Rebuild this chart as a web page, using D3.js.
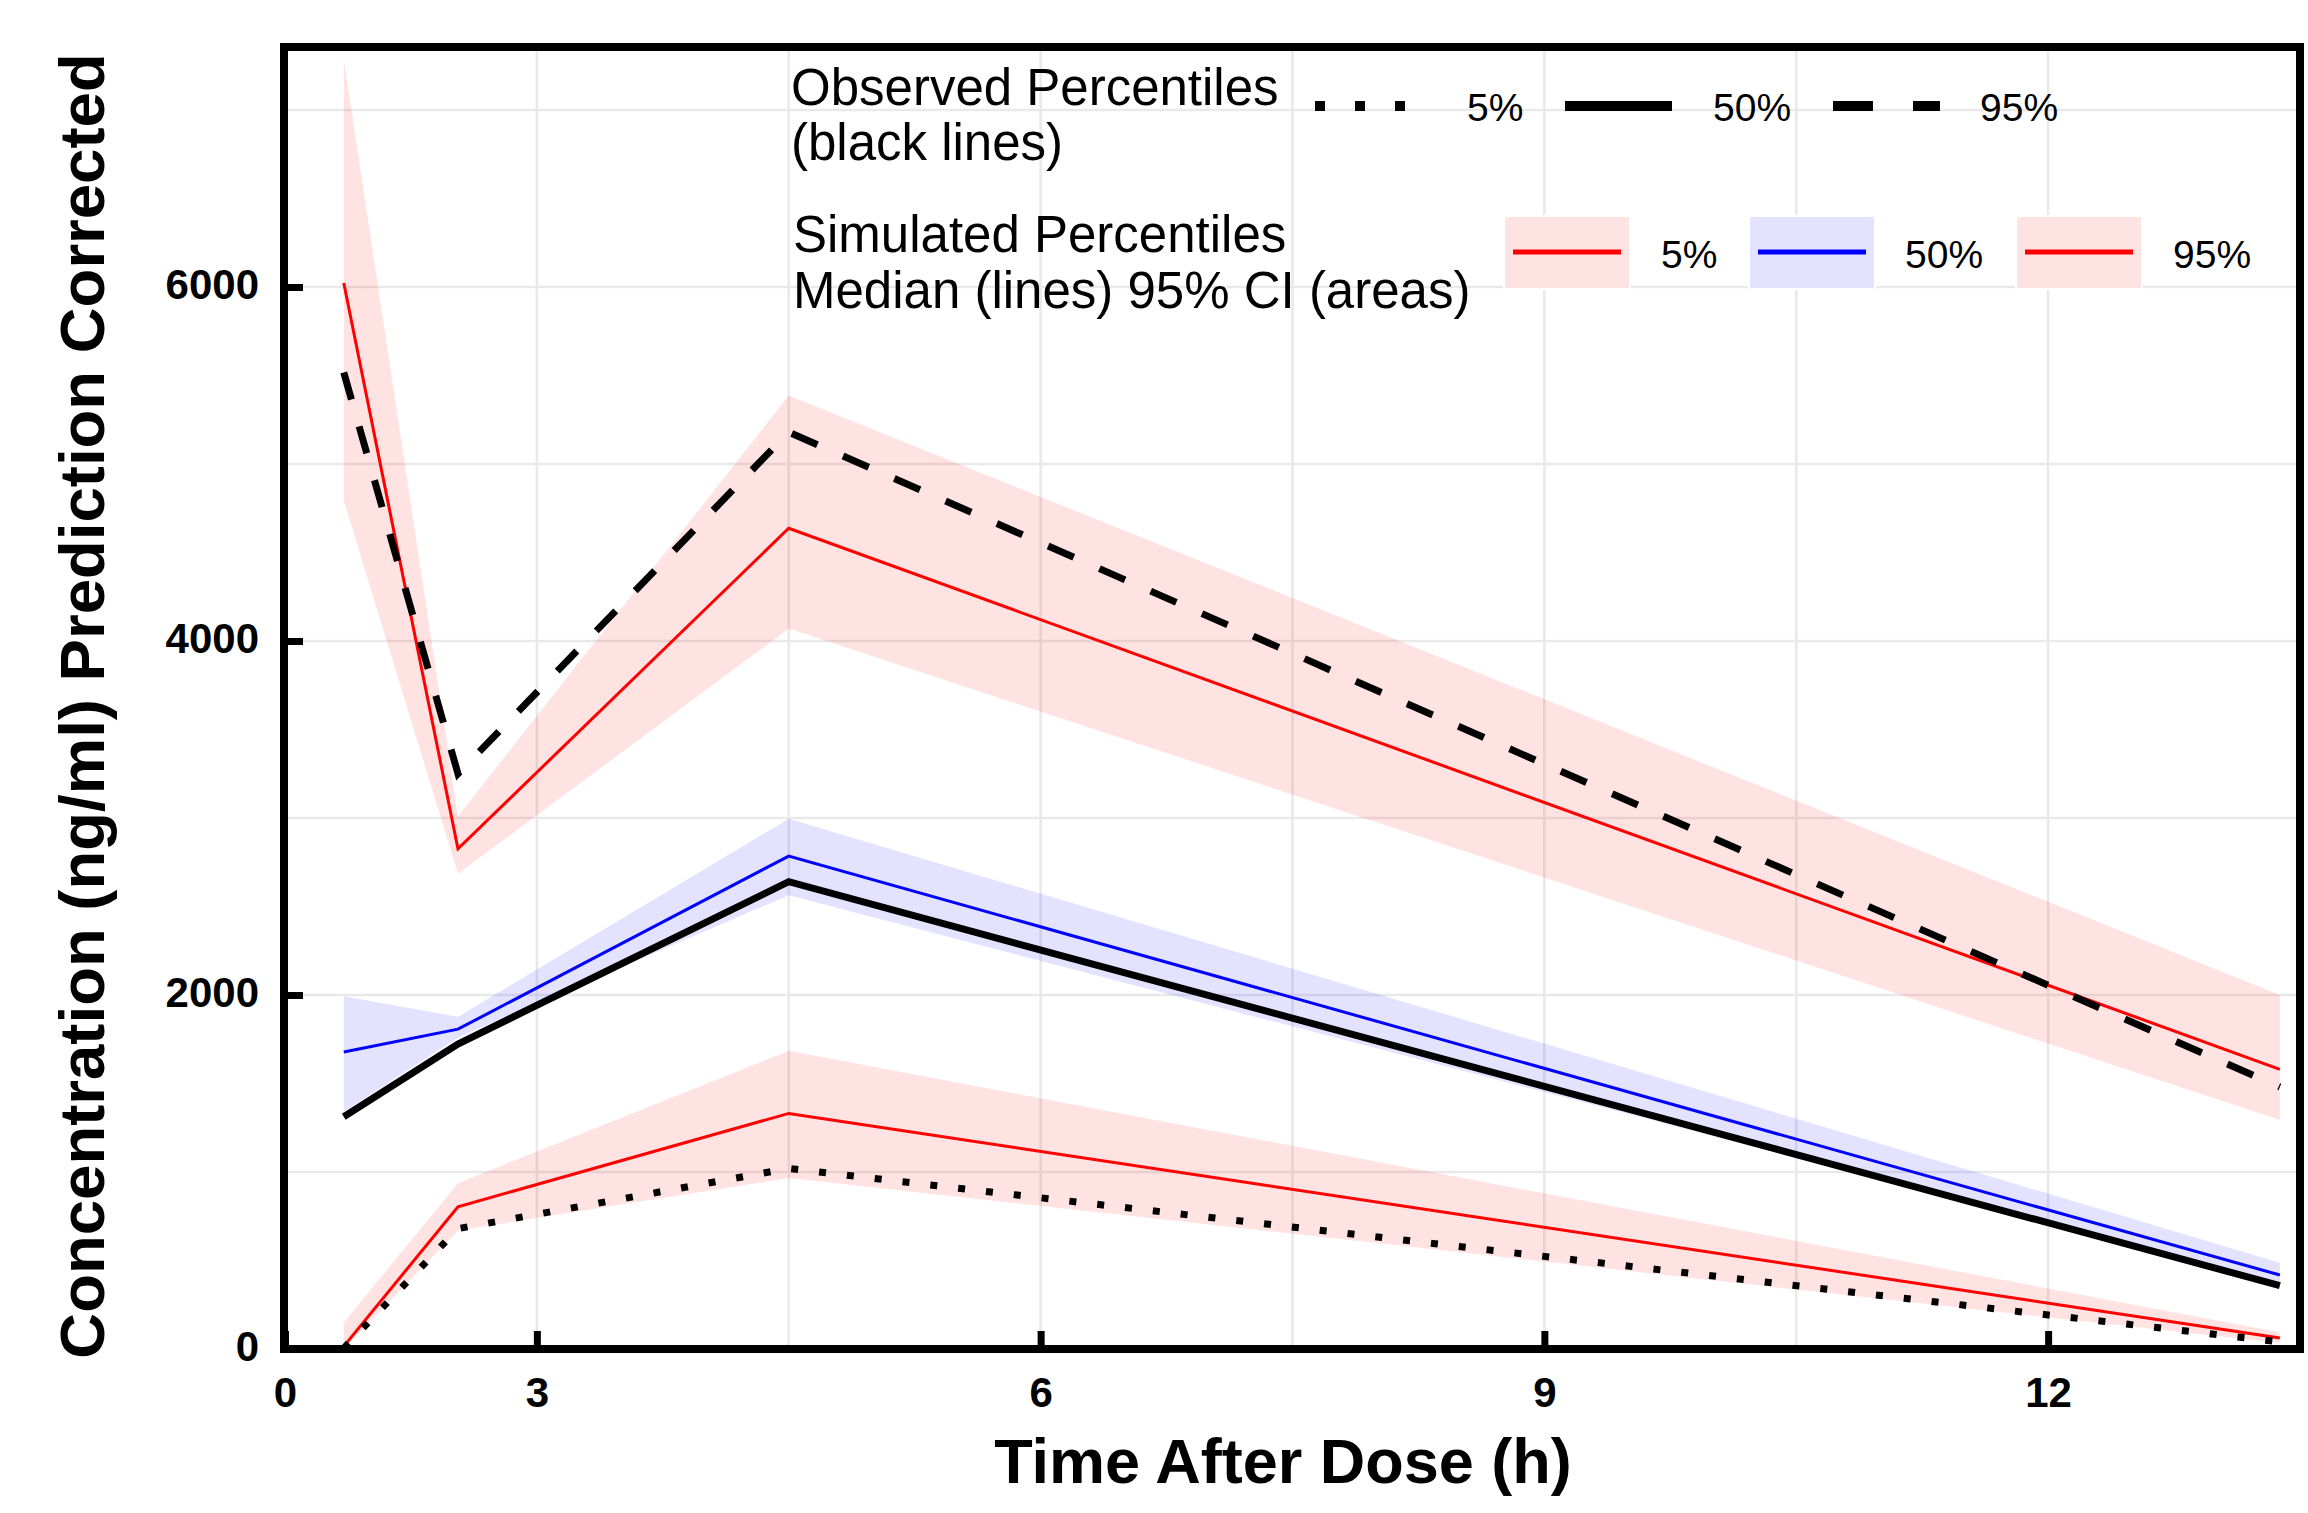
<!DOCTYPE html>
<html>
<head>
<meta charset="utf-8">
<script src="https://cdn.jsdelivr.net/npm/d3@7"></script>
<style>
  html, body { margin: 0; padding: 0; background: #ffffff; }
  svg { display: block; }
</style>
</head>
<body>
<svg id="chart" width="2308" height="1513"></svg>
<script>
// ---------------- data ----------------
const times      = [1.85, 2.53, 4.5, 13.38];
// observed percentiles (black lines)
const obs5       = [5, 680, 1020, 40];
const obs50      = [1312, 1723, 2640, 358];
const obs95      = [5517, 3250, 5180, 1480];
// simulated percentiles: medians (lines) and 95% CI (areas)
const sim5       = [15, 804, 1331, 62];
const sim5Lo     = [0, 670, 966, 34];
const sim5Hi     = [150, 937, 1685, 95];
const sim50      = [1678, 1807, 2785, 418];
const sim50Lo    = [1340, 1760, 2564, 368];
const sim50Hi    = [1993, 1877, 2996, 488];
const sim95      = [6023, 2826, 4637, 1580];
const sim95Lo    = [4792, 2685, 4070, 1294];
const sim95Hi    = [7290, 3010, 5387, 2000];
// axes
const xTickValues = [1.5, 3, 6, 9, 12];
const xTickLabels = ["0", "3", "6", "9", "12"];
const xGridValues = [3, 4.5, 6, 7.5, 9, 10.5, 12];
const yTickValues = [0, 2000, 4000, 6000];
const yGridValues = [1000, 2000, 3000, 4000, 5000, 6000, 7000];
const xTitle = "Time After Dose (h)";
const yTitle = "Concentration (ng/ml) Prediction Corrected";
// legend
const obsLegendTitle = ["Observed Percentiles", "(black lines)"];
const simLegendTitle = ["Simulated Percentiles", "Median (lines) 95% CI (areas)"];
const legendLabels = ["5%", "50%", "95%"];

// ---------------- layout ----------------
const panel = { left: 284, right: 2300, top: 47, bottom: 1349 };
const FONT = "'Liberation Sans', Arial, Helvetica, sans-serif";

const svg = d3.select("#chart");

const x = d3.scaleLinear().domain([1.5, 13.5]).range([285, 2300]);
const y = d3.scaleLinear().domain([0, 7356]).range([1349, 47]);

// grid
const grid = svg.append("g").attr("class", "grid");
grid.selectAll("line.gx").data(xGridValues).join("line")
  .attr("x1", d => x(d)).attr("x2", d => x(d))
  .attr("y1", panel.top).attr("y2", panel.bottom)
  .attr("stroke", "#e9e9e9").attr("stroke-width", 2.6);
grid.selectAll("line.gy").data(yGridValues).join("line")
  .attr("y1", d => y(d)).attr("y2", d => y(d))
  .attr("x1", panel.left).attr("x2", panel.right)
  .attr("stroke", "#e9e9e9").attr("stroke-width", 2.6);

// helpers
const pts = vals => vals.map((v, i) => ({ t: times[i], v }));
const bandPts = (lo, hi) => lo.map((v, i) => ({ t: times[i], lo: v, hi: hi[i] }));
const line = d3.line().x(d => x(d.t)).y(d => y(d.v));
const area = d3.area().x(d => x(d.t)).y0(d => y(d.lo)).y1(d => y(d.hi));

const RED = "#ff0000", BLUE = "#0000ff";
const PINK = "rgba(255,0,0,0.11)", LAV = "rgba(0,0,255,0.11)";

// bands
const bands = [
  { lo: sim5Lo, hi: sim5Hi, fill: PINK },
  { lo: sim50Lo, hi: sim50Hi, fill: LAV },
  { lo: sim95Lo, hi: sim95Hi, fill: PINK }
];
svg.append("g").selectAll("path").data(bands).join("path")
  .attr("d", d => area(bandPts(d.lo, d.hi)))
  .attr("fill", d => d.fill).attr("stroke", "none");

// simulated median lines
const simLines = [
  { v: sim5, c: RED }, { v: sim50, c: BLUE }, { v: sim95, c: RED }
];
svg.append("g").selectAll("path").data(simLines).join("path")
  .attr("d", d => line(pts(d.v)))
  .attr("fill", "none").attr("stroke", d => d.c).attr("stroke-width", 3);

// observed lines
const obsLines = [
  { v: obs5, dash: "7,21" }, { v: obs50, dash: null }, { v: obs95, dash: "28,28" }
];
svg.append("g").selectAll("path").data(obsLines).join("path")
  .attr("d", d => line(pts(d.v)))
  .attr("fill", "none").attr("stroke", "#000").attr("stroke-width", 7)
  .attr("stroke-linecap", "butt").attr("stroke-linejoin", "miter")
  .attr("stroke-dasharray", d => d.dash);

// axes
const yAxis = d3.axisLeft(y).tickValues(yTickValues).tickFormat(d3.format("d"))
  .tickSize(-19).tickPadding(25);
const gy = svg.append("g").attr("transform", `translate(${panel.left},0)`).call(yAxis);
gy.select(".domain").remove();
gy.selectAll(".tick line").attr("stroke", "#000").attr("stroke-width", 7);
gy.selectAll(".tick text").attr("fill", "#000")
  .style("font-family", FONT).style("font-weight", "bold").style("font-size", "42px")
  .attr("dy", "0.27em");

const xAxis = d3.axisBottom(x).tickValues(xTickValues)
  .tickFormat((d, i) => xTickLabels[i]).tickSize(-18).tickPadding(28);
const gx = svg.append("g").attr("transform", `translate(0,${panel.bottom})`).call(xAxis);
gx.select(".domain").remove();
gx.selectAll(".tick line").attr("stroke", "#000").attr("stroke-width", 7);
gx.selectAll(".tick text").attr("fill", "#000")
  .style("font-family", FONT).style("font-weight", "bold").style("font-size", "42px");

// panel frame
svg.append("rect")
  .attr("x", panel.left).attr("y", panel.top)
  .attr("width", panel.right - panel.left).attr("height", panel.bottom - panel.top)
  .attr("fill", "none").attr("stroke", "#000").attr("stroke-width", 8);

// axis titles
svg.append("text").text(xTitle)
  .attr("x", 1283).attr("y", 1483).attr("text-anchor", "middle")
  .style("font-family", FONT).style("font-weight", "bold").style("font-size", "63px");
svg.append("text").text(yTitle)
  .attr("transform", "translate(104,706) rotate(-90)").attr("text-anchor", "middle")
  .style("font-family", FONT).style("font-weight", "bold").style("font-size", "63.5px");

// ---------------- legend ----------------
const leg = svg.append("g").style("font-family", FONT);
// titles
leg.selectAll("text.ot").data(obsLegendTitle).join("text")
  .attr("x", 791).attr("y", (d, i) => 105 + i * 55).text(d => d)
  .style("font-size", "51px");
leg.selectAll("text.st").data(simLegendTitle).join("text")
  .attr("x", 793).attr("y", (d, i) => 252 + i * 56).text(d => d)
  .style("font-size", "51px");

// observed keys
const obsKeyX = [1315, 1565, 1833];
const obsLabelX = [1467, 1713, 1980];
obsLines.forEach((o, i) => {
  leg.append("line").attr("x1", obsKeyX[i]).attr("x2", obsKeyX[i] + 107).attr("y1", 106).attr("y2", 106)
    .attr("stroke", "#000").attr("stroke-width", 10)
    .attr("stroke-dasharray", o.dash ? o.dash.split(",").map(v => +v * 10 / 7).join(",") : null);
  leg.append("text").attr("x", obsLabelX[i]).attr("y", 121).text(legendLabels[i])
    .style("font-size", "39px");
});

// simulated keys
const simKeyX = [1504, 1749, 2016];
const simLabelX = [1661, 1905, 2173];
simLines.forEach((s, i) => {
  leg.append("rect").attr("x", simKeyX[i]).attr("y", 216).attr("width", 126).attr("height", 73)
    .attr("fill", s.c === RED ? "#ffe3e3" : "#e3e3ff").attr("stroke", "#ffffff").attr("stroke-width", 2);
  leg.append("line").attr("x1", simKeyX[i] + 9).attr("x2", simKeyX[i] + 117).attr("y1", 252).attr("y2", 252)
    .attr("stroke", s.c).attr("stroke-width", 5);
  leg.append("text").attr("x", simLabelX[i]).attr("y", 268).text(legendLabels[i])
    .style("font-size", "39px");
});
</script>
</body>
</html>
